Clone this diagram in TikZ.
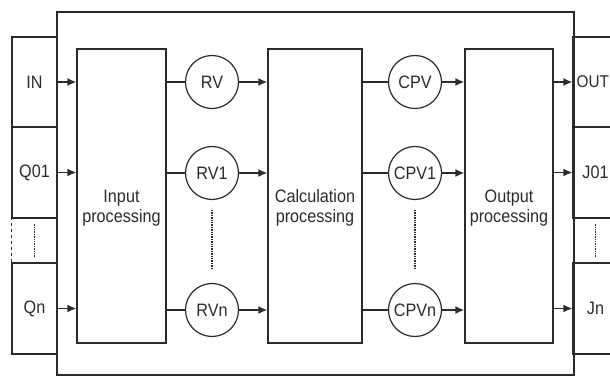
\documentclass[tikz,border=0pt]{standalone}
\usepackage{fontspec}
\setmainfont{Liberation Sans}[FakeStretch=0.9]
\usepackage{tikz}
\usetikzlibrary{arrows.meta,positioning,calc}
\definecolor{lineGray}{HTML}{2B2B2B}

\begin{document}
\begin{tikzpicture}[x=1pt,y=-1pt,color=lineGray,line width=1.4pt,
  font=\fontsize{18}{20}\selectfont,
  port/.style={draw,minimum width=45pt,inner sep=0pt},
  proc/.style={draw,minimum height=294pt,inner sep=0pt},
  var/.style={circle,draw,line width=1.2pt,minimum size=53pt,inner sep=0pt},
  arr/.style={-{Latex[length=9pt,width=8pt]}}]
\useasboundingbox (0,0) rectangle (610,379);
% --- frame ---
\draw (57,12) rectangle (574,375);
% --- left ports ---
\node[port,minimum height=90pt] (in) at (34.5,82) {IN};
\node[port,minimum height=91pt] (q01) at (34.5,172.5) {Q01};
\node[minimum width=45pt,minimum height=45pt,inner sep=0pt] (qdots) at (34.5,240.5) {};
\node[port,minimum height=91pt] (qn) at (34.5,308.5) {Qn};
\draw[dashed] (qdots.north west) -- (qdots.south west);
\draw[densely dotted] ($(qdots.north)+(0,7)$) -- ($(qdots.south)+(0,-7)$);
% --- right ports ---
\node[port,minimum height=90pt] (out) at (595.5,82) {};
\node[anchor=west,inner sep=0pt,font=\fontsize{17}{20}\selectfont] (outtxt) at (576,82) {OUT};
\node[port,minimum height=91pt] (j01) at (595.5,172.5) {J01};
\node[minimum width=45pt,minimum height=45pt,inner sep=0pt] (jdots) at (595.5,240.5) {};
\node[port,minimum height=91pt] (jn) at (595.5,308.5) {Jn};
\draw[densely dotted] ($(jdots.north)+(0,7)$) -- ($(jdots.south)+(0,-7)$);
% --- processing blocks ---
\node[proc,minimum width=89pt] (inp) at (121.5,196) {};
\node[proc,minimum width=94pt] (calc) at (315,196) {};
\node[proc,minimum width=88pt] (outp) at (509,196) {};
\node[align=center] (inptxt) at ($(inp)+(0,12)$) {Input\\processing};
\node[align=center] (calctxt) at ($(calc)+(0,12)$) {Calculation\\processing};
\node[align=center] (outptxt) at ($(outp)+(0,12)$) {Output\\processing};
% --- variables ---
\node[var] (rv) at (212,82) {RV};
\node[var] (rv1) at (212,173) {RV1};
\node[var] (rvn) at (212,310) {RVn};
\node[var] (cpv) at (415,82) {CPV};
\node[var] (cpv1) at (415,173) {CPV1};
\node[var] (cpvn) at (415,310) {CPVn};
\draw[densely dotted] ($(rv1.south)+(0,10)$) -- ($(rvn.north)+(0,-15)$);
\draw[densely dotted] ($(cpv1.south)+(0,10)$) -- ($(cpvn.north)+(0,-15)$);
% --- connectors ---
\draw[arr] (in.east) -- (in.east -| inp.west);
\draw[arr] (q01.east) -- (q01.east -| inp.west);
\draw[arr] (qn.east) -- (qn.east -| inp.west);
\draw (rv.west -| inp.east) -- (rv);
\draw (rv1.west -| inp.east) -- (rv1);
\draw (rvn.west -| inp.east) -- (rvn);
\draw[arr] (rv) -- (rv -| calc.west);
\draw[arr] (rv1) -- (rv1 -| calc.west);
\draw[arr] (rvn) -- (rvn -| calc.west);
\draw (cpv.west -| calc.east) -- (cpv);
\draw (cpv1.west -| calc.east) -- (cpv1);
\draw (cpvn.west -| calc.east) -- (cpvn);
\draw[arr] (cpv) -- (cpv -| outp.west);
\draw[arr] (cpv1) -- (cpv1 -| outp.west);
\draw[arr] (cpvn) -- (cpvn -| outp.west);
\draw[arr] (out.west -| outp.east) -- (out.west);
\draw[arr] (j01.west -| outp.east) -- (j01.west);
\draw[arr] (jn.west -| outp.east) -- (jn.west);
\end{tikzpicture}
\end{document}
